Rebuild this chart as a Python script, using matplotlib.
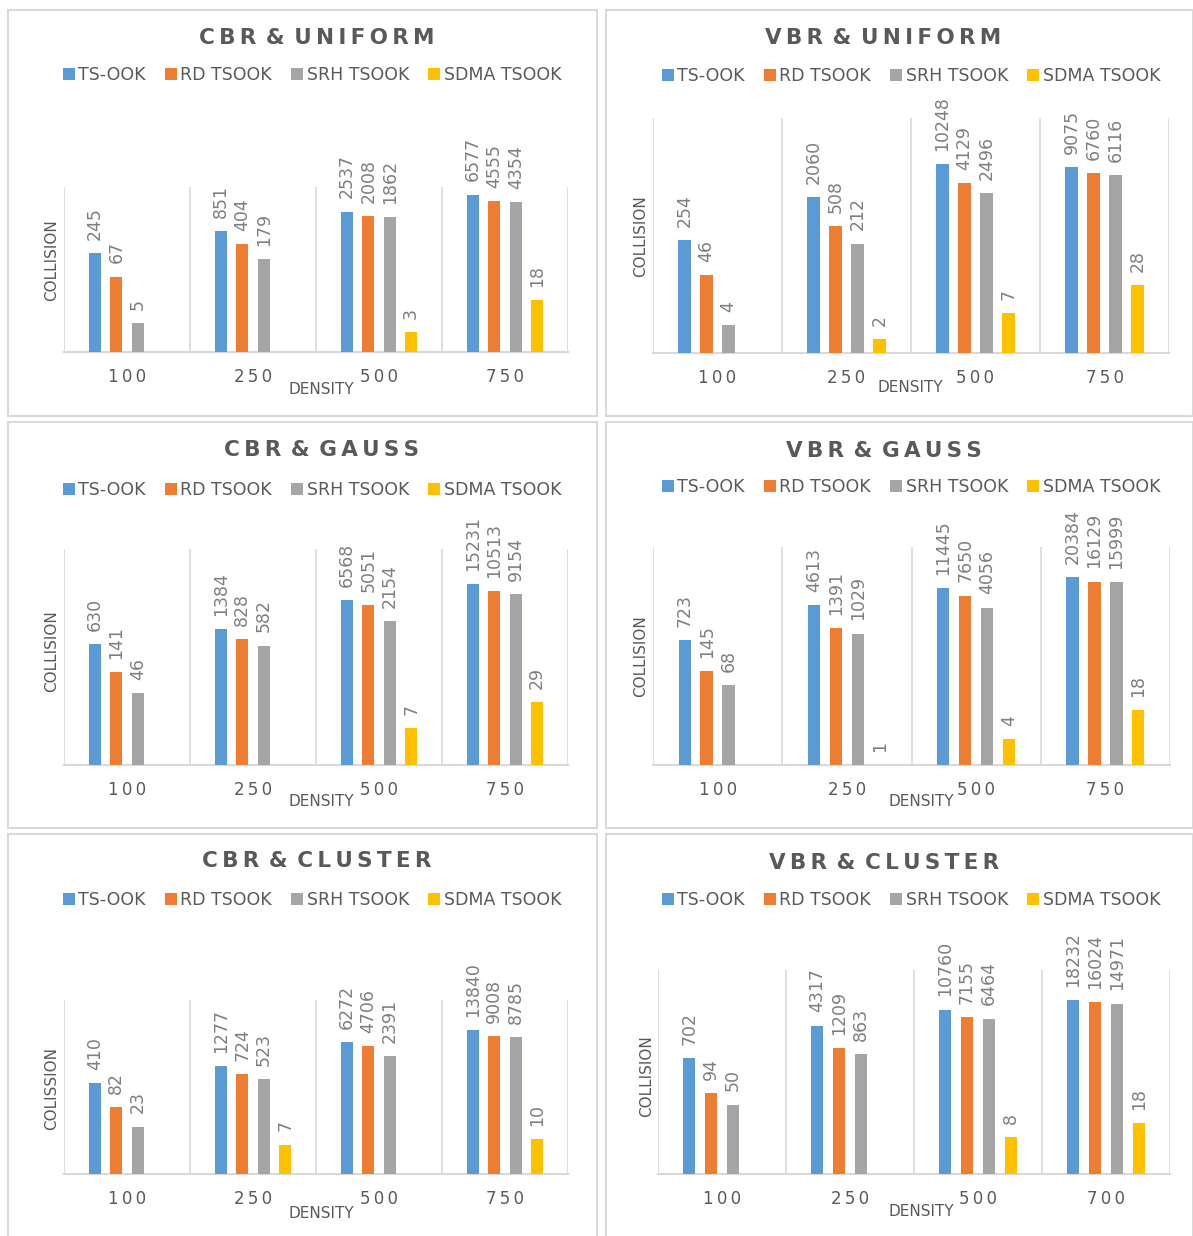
import numpy as np
import matplotlib
matplotlib.use("Agg")
import matplotlib.pyplot as plt
from matplotlib.patches import Rectangle, Patch

nan = np.nan
series = ['TS-OOK', 'RD TSOOK', 'SRH TSOOK', 'SDMA TSOOK']
colors = ['#5B9BD5', '#ED7D31', '#A5A5A5', '#FFC000']

density_a = ['100', '250', '500', '750']
density_b = ['100', '250', '500', '700']

cbr_uniform_ts = [245, 851, 2537, 6577]
cbr_uniform_rd = [67, 404, 2008, 4555]
cbr_uniform_srh = [5, 179, 1862, 4354]
cbr_uniform_sdma = [nan, nan, 3, 18]

vbr_uniform_ts = [254, 2060, 10248, 9075]
vbr_uniform_rd = [46, 508, 4129, 6760]
vbr_uniform_srh = [4, 212, 2496, 6116]
vbr_uniform_sdma = [nan, 2, 7, 28]

cbr_gauss_ts = [630, 1384, 6568, 15231]
cbr_gauss_rd = [141, 828, 5051, 10513]
cbr_gauss_srh = [46, 582, 2154, 9154]
cbr_gauss_sdma = [nan, nan, 7, 29]

vbr_gauss_ts = [723, 4613, 11445, 20384]
vbr_gauss_rd = [145, 1391, 7650, 16129]
vbr_gauss_srh = [68, 1029, 4056, 15999]
vbr_gauss_sdma = [nan, 1, 4, 18]

cbr_cluster_ts = [410, 1277, 6272, 13840]
cbr_cluster_rd = [82, 724, 4706, 9008]
cbr_cluster_srh = [23, 523, 2391, 8785]
cbr_cluster_sdma = [nan, 7, nan, 10]

vbr_cluster_ts = [702, 4317, 10760, 18232]
vbr_cluster_rd = [94, 1209, 7155, 16024]
vbr_cluster_srh = [50, 863, 6464, 14971]
vbr_cluster_sdma = [nan, nan, 8, 18]

W, H = 1193, 1236
fig = plt.figure(figsize=(W / 100, H / 100), dpi=100)

TXT = '#595959'
LBL = '#7F7F7F'
GRID = '#D9D9D9'
HS = '\u200a'


def spaced(s, gap=HS):
    return gap.join(list(s))


def fx(px):
    return px / W


def fy(py):
    return 1 - py / H


panels = [
    dict(title='CBR & UNIFORM', cats=density_a,
         data=[cbr_uniform_ts, cbr_uniform_rd, cbr_uniform_srh, cbr_uniform_sdma],
         box=(8, 10, 597, 416), ax=(64, 187, 568, 352), ymax=1e4,
         tx=317, ty=38, ly=75, lx=312, yl='COLLISION', ylx=52, yly=260,
         dx=321, dy=389, tky=377),
    dict(title='VBR & UNIFORM', cats=density_a,
         data=[vbr_uniform_ts, vbr_uniform_rd, vbr_uniform_srh, vbr_uniform_sdma],
         box=(606, 10, 1193, 416), ax=(653, 118, 1169, 353), ymax=1e5,
         tx=883, ty=38, ly=76, lx=911, yl='COLLISION', ylx=641, yly=236,
         dx=910, dy=388, tky=378),
    dict(title='CBR & GAUSS', cats=density_a,
         data=[cbr_gauss_ts, cbr_gauss_rd, cbr_gauss_srh, cbr_gauss_sdma],
         box=(8, 422, 597, 828), ax=(64, 549, 568, 765), ymax=1e5,
         tx=322, ty=450, ly=490, lx=312, yl='COLLISION', ylx=52, yly=651,
         dx=321, dy=802, tky=790),
    dict(title='VBR & GAUSS', cats=density_a,
         data=[vbr_gauss_ts, vbr_gauss_rd, vbr_gauss_srh, vbr_gauss_sdma],
         box=(606, 422, 1193, 828), ax=(653, 547, 1170, 765), ymax=1e5,
         tx=884, ty=451, ly=487, lx=911, yl='COLLISION', ylx=641, yly=656,
         dx=921, dy=802, tky=790),
    dict(title='CBR & CLUSTER', cats=density_a,
         data=[cbr_cluster_ts, cbr_cluster_rd, cbr_cluster_srh, cbr_cluster_sdma],
         box=(8, 834, 597, 1245), ax=(64, 1000, 568, 1174), ymax=1e5,
         tx=317, ty=861, ly=900, lx=312, yl='COLISSION', ylx=52, yly=1088,
         dx=321, dy=1214, tky=1199),
    dict(title='VBR & CLUSTER', cats=density_b,
         data=[vbr_cluster_ts, vbr_cluster_rd, vbr_cluster_srh, vbr_cluster_sdma],
         box=(606, 834, 1193, 1245), ax=(658, 970, 1170, 1174), ymax=1e5,
         tx=884, ty=863, ly=900, lx=911, yl='COLLISION', ylx=647, yly=1076,
         dx=921, dy=1212, tky=1199),
]

bw = 0.095
step = 0.17
offsets = (np.arange(4) - 1.5) * step

for p in panels:
    bx0, by0, bx1, by1 = p['box']
    fig.patches.append(Rectangle((fx(bx0), fy(by1)), fx(bx1 - bx0), (by1 - by0) / H,
                                 transform=fig.transFigure, fill=False,
                                 edgecolor=GRID, lw=1.5, zorder=0))
    x0, y0, x1, y1 = p['ax']
    ax = fig.add_axes([fx(x0), fy(y1), fx(x1 - x0), (y1 - y0) / H])
    ax.set_yscale('log')
    ax.set_ylim(1, p['ymax'])
    ax.set_xlim(-0.5, 3.5)
    ax.patch.set_alpha(0)
    xs = np.arange(len(p['cats']))
    for i, vals in enumerate(p['data']):
        v = np.array(vals, dtype=float)
        ax.bar(xs + offsets[i], v, width=bw, color=colors[i], zorder=3)
        for xv, val in zip(xs + offsets[i], v):
            if np.isnan(val):
                continue
            ax.annotate(str(int(val)), (xv, max(val, 1)), xytext=(0, 9.5),
                        textcoords='offset points', rotation=90,
                        ha='center', va='bottom', fontsize=12.5, color=LBL,
                        zorder=4, annotation_clip=False)
    for b in [0.5, 1.5, 2.5, 3.5, -0.5]:
        ax.axvline(b, color=GRID, lw=1.2, zorder=1)
    for s in ['top', 'right', 'left']:
        ax.spines[s].set_visible(False)
    ax.spines['bottom'].set_color(GRID)
    ax.spines['bottom'].set_linewidth(1.5)
    ax.set_yticks([])
    ax.minorticks_off()
    ax.yaxis.set_minor_locator(matplotlib.ticker.NullLocator())
    ax.set_xticks([])
    for xv, c in zip(xs, p['cats']):
        fig.text(fx(x0 + (xv + 0.5) * (x1 - x0) / 4), fy(p['tky']), spaced(c, HS + HS),
                 ha='center', va='center', fontsize=12, color=TXT)
    fig.text(fx(p['dx']), fy(p['dy']), 'DENSITY', ha='center', va='center',
             fontsize=11, color=TXT)
    fig.text(fx(p['ylx']), fy(p['yly']), p['yl'], ha='center', va='center',
             rotation=90, fontsize=11, color=TXT)
    words = p['title'].split(' ')
    title = (' ' + HS).join(spaced(w, HS + HS) for w in words)
    fig.text(fx(p['tx']), fy(p['ty']), title, ha='center', va='center',
             fontsize=15.5, fontweight='bold', color=TXT)
    handles = [Patch(facecolor=c, edgecolor='none') for c in colors]
    fig.legend(handles, series, loc='center', bbox_to_anchor=(fx(p['lx']), fy(p['ly'])),
               ncol=4, frameon=False, fontsize=12.5, handlelength=0.7,
               handleheight=0.7, handletextpad=0.2, columnspacing=1.1,
               labelcolor=TXT, borderpad=0)

fig.savefig('out.png', dpi=100)
